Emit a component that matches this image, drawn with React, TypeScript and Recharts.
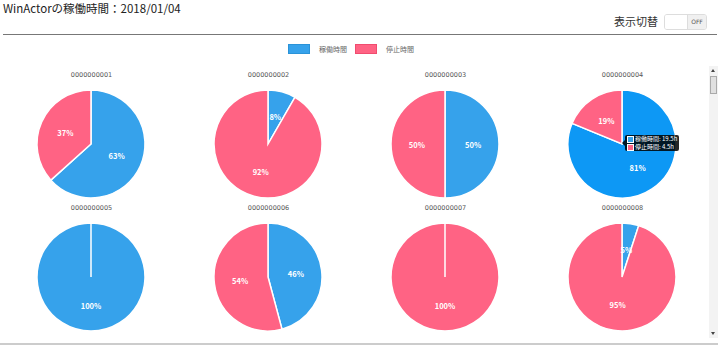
import React from "react";
import { PieChart, Pie, Cell, Tooltip } from "recharts";

// 稼働データ（単位: 時間）
const machines = [
  "0000000001",
  "0000000002",
  "0000000003",
  "0000000004",
  "0000000005",
  "0000000006",
  "0000000007",
  "0000000008",
];
const runHours = [15.2, 2, 12, 19.5, 24, 11, 0, 1.2];
const stopHours = [8.8, 22, 12, 4.5, 0, 13, 24, 22.8];
const seriesNames = ["稼働時間", "停止時間"];

const COLORS = ["#36A2EB", "#FF6384"];
const HOVER_BLUE = "#0d98f5";
const FONT = "'Noto Sans CJK JP', 'Noto Sans', sans-serif";
const RAD = Math.PI / 180;

const CELL_W = 177;
const CHART_H = 123;

const renderLabel = (props: any) => {
  const { cx, cy, midAngle, outerRadius, percent, value } = props;
  if (!value) return null;
  const r = outerRadius * 0.52;
  const x = cx + r * Math.cos(-midAngle * RAD);
  const y = cy + r * Math.sin(-midAngle * RAD);
  return (
    <text
      x={x}
      y={y}
      fill="#fff"
      fontSize={7.5}
      fontWeight="bold"
      fontFamily={FONT}
      textAnchor="middle"
      dominantBaseline="central"
    >
      {Math.round(percent * 100)}%
    </text>
  );
};

const TipContent = ({ idx }: { idx: number }) => {
  const vals = [runHours[idx], stopHours[idx]];
  return (
    <div
      style={{
        position: "relative",
        background: "rgba(0,0,0,0.85)",
        color: "#fff",
        fontSize: 6,
        lineHeight: "8px",
        fontFamily: FONT,
        padding: "0px 2px",
        borderRadius: 2,
        whiteSpace: "nowrap",
      }}
    >
      <div
        style={{
          position: "absolute",
          left: -3,
          top: 5,
          width: 0,
          height: 0,
          borderTop: "3px solid transparent",
          borderBottom: "3px solid transparent",
          borderRight: "3px solid rgba(0,0,0,0.85)",
        }}
      />
      {seriesNames.map((n, i) => (
        <div key={n} style={{ display: "flex", alignItems: "center" }}>
          <span
            style={{
              display: "inline-block",
              width: 5,
              height: 5,
              background: COLORS[i],
              border: "1px solid #fff",
              marginRight: 1,
            }}
          />
          {n}: {vals[i]}h
        </div>
      ))}
    </div>
  );
};

const MachinePie = ({ idx }: { idx: number }) => {
  const data = [
    { name: seriesNames[0], value: runHours[idx] },
    { name: seriesNames[1], value: stopHours[idx] },
  ];
  const hovered = idx === 3;
  return (
    <div style={{ width: CELL_W, textAlign: "center" }}>
      <div
        style={{
          fontSize: 6.5,
          color: "#555",
          fontFamily: "'DejaVu Sans', sans-serif",
          height: 10,
          lineHeight: "10px",
        }}
      >
        {machines[idx]}
      </div>
      <PieChart
        width={CELL_W}
        height={CHART_H}
        margin={{ top: 0, right: 0, bottom: 0, left: 0 }}
      >
        <Pie
          data={data}
          cx={88}
          cy={64}
          outerRadius={54}
          startAngle={90}
          endAngle={-270}
          dataKey="value"
          stroke="#fff"
          strokeWidth={1.5}
          label={renderLabel}
          labelLine={false}
          isAnimationActive={false}
        >
          {data.map((_, i) => (
            <Cell
              key={`cell-${i}`}
              fill={hovered && i === 0 ? HOVER_BLUE : COLORS[i]}
            />
          ))}
        </Pie>
        {hovered && (
          <Tooltip
            defaultIndex={0}
            position={{ x: 91, y: 55 }}
            content={() => <TipContent idx={idx} />}
            isAnimationActive={false}
            wrapperStyle={{ outline: "none" }}
          />
        )}
      </PieChart>
    </div>
  );
};

const App = () => {
  return (
    <div
      style={{
        position: "relative",
        width: 720,
        height: 348,
        background: "#fff",
        overflow: "hidden",
        fontFamily: FONT,
      }}
    >
      <style>{`body{margin:0}`}</style>
      <div
        style={{
          position: "absolute",
          left: 3,
          top: 0,
          fontSize: 11.5,
          color: "#222",
          lineHeight: "16px",
        }}
      >
        WinActorの稼働時間：2018/01/04
      </div>
      <div
        style={{
          position: "absolute",
          left: 614,
          top: 13,
          fontSize: 11,
          color: "#333",
          lineHeight: "16px",
        }}
      >
        表示切替
      </div>
      <div
        style={{
          position: "absolute",
          left: 664,
          top: 14,
          width: 43,
          height: 16,
          border: "1px solid #ddd",
          borderRadius: 3,
          display: "flex",
          overflow: "hidden",
          boxSizing: "border-box",
        }}
      >
        <div style={{ width: 22, background: "#fff", borderRight: "1px solid #ddd" }} />
        <div
          style={{
            flex: 1,
            background: "#f0f0f0",
            fontSize: 6,
            color: "#555",
            fontFamily: "'DejaVu Sans', sans-serif",
            textAlign: "center",
            lineHeight: "14px",
          }}
        >
          OFF
        </div>
      </div>
      <div
        style={{
          position: "absolute",
          left: 3,
          top: 34,
          width: 714,
          height: 1,
          background: "#777",
        }}
      />
      {/* legend */}
      <div
        style={{
          position: "absolute",
          left: 288,
          top: 44,
          display: "flex",
          alignItems: "center",
          fontSize: 7,
          color: "#666",
        }}
      >
        {seriesNames.map((n, i) => (
          <div key={n} style={{ display: "flex", alignItems: "center", marginRight: 8 }}>
            <span
              style={{
                display: "inline-block",
                width: 20,
                height: 8,
                background: COLORS[i],
                border: `1px solid ${i === 0 ? "#2a93d8" : "#f04c6f"}`,
                marginRight: 9,
              }}
            />
            {n}
          </div>
        ))}
      </div>
      {/* pie grid */}
      {[0, 1].map((row) => (
        <div
          key={row}
          style={{
            position: "absolute",
            left: 3,
            top: row === 0 ? 70 : 203,
            display: "flex",
          }}
        >
          {[0, 1, 2, 3].map((col) => (
            <MachinePie key={col} idx={row * 4 + col} />
          ))}
        </div>
      ))}
      {/* scrollbar */}
      <div
        style={{
          position: "absolute",
          left: 709,
          top: 66,
          width: 9,
          height: 272,
          background: "#f3f3f3",
        }}
      >
        <div
          style={{
            position: "absolute",
            left: 2,
            top: 3,
            width: 0,
            height: 0,
            borderLeft: "2px solid transparent",
            borderRight: "2px solid transparent",
            borderBottom: "3px solid #444",
          }}
        />
        <div
          style={{
            position: "absolute",
            left: 1,
            top: 10,
            width: 7,
            height: 18,
            background: "#e0e0e0",
            border: "1px solid #aaa",
            boxSizing: "border-box",
          }}
        />
        <div
          style={{
            position: "absolute",
            left: 2,
            bottom: 3,
            width: 0,
            height: 0,
            borderLeft: "2px solid transparent",
            borderRight: "2px solid transparent",
            borderTop: "3px solid #444",
          }}
        />
      </div>
      <div
        style={{
          position: "absolute",
          left: 0,
          top: 343,
          width: 718,
          height: 2,
          background: "#ccc",
        }}
      />
    </div>
  );
};

export default App;
